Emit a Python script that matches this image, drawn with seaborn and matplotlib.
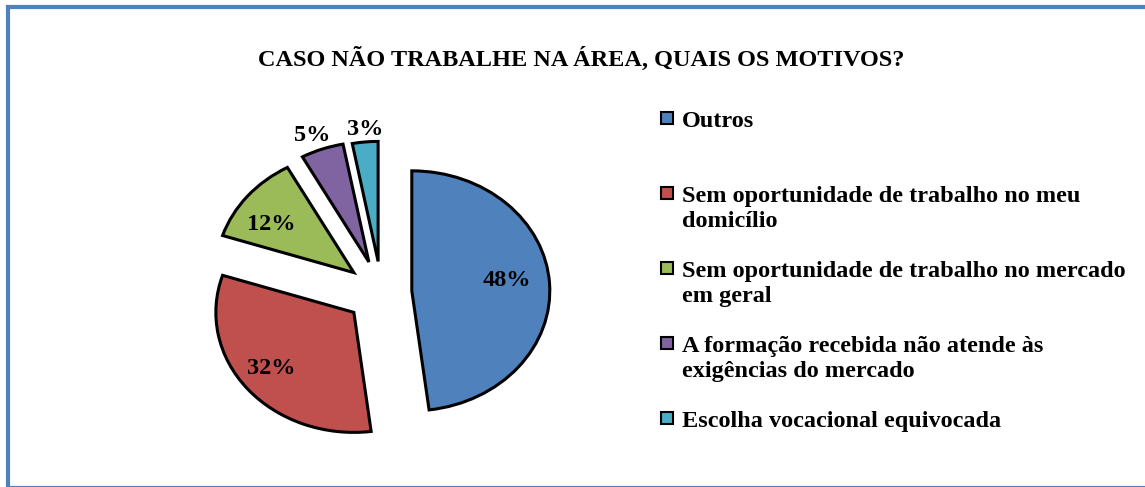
import matplotlib
matplotlib.use("Agg")
import matplotlib.pyplot as plt
import seaborn as sns
import numpy as np
from matplotlib.patches import Rectangle

sns.set_style("white")
plt.rcParams['font.family'] = ['Liberation Serif', 'DejaVu Serif']
plt.rcParams['text.color'] = 'black'

# Dados - motivos para nao trabalhar na area
motivos = [
    "Outros",
    "Sem oportunidade de trabalho no meu\ndomicílio",
    "Sem oportunidade de trabalho no mercado\nem geral",
    "A formação recebida não atende às\nexigências do mercado",
    "Escolha vocacional equivocada",
]
percentual = [48, 32, 12, 5, 3]
cores = ["#4F81BD", "#C0504D", "#9BBB59", "#8064A2", "#4BACC6"]
explode = [0.22, 0.26, 0.26, 0.27, 0.26]

# posicao dos rotulos (distancia do vertice e ajuste de angulo, como o Excel)
dist_rotulo = [0.70, 0.755, 0.725, 1.148, 1.117]
ajuste_ang = [5.0, -2.5, 4.8, 1.3, -0.4]

W, H = 1145, 487
fig = plt.figure(figsize=(W / 100, H / 100), dpi=100)
ax = fig.add_axes([0, 0, 1, 1])

wedges, texts, autotexts = ax.pie(
    percentual, colors=cores, explode=explode, startangle=90, counterclock=False,
    autopct='%1.0f%%', pctdistance=0.73,
    wedgeprops=dict(edgecolor='black', linewidth=2.2),
    textprops=dict(fontsize=17.5, fontweight='bold', color='black'),
)

for w, t, r, da in zip(wedges, autotexts, dist_rotulo, ajuste_ang):
    ang = np.deg2rad((w.theta1 + w.theta2) / 2 + da)
    cx, cy = w.center
    t.set_position((cx + r * np.cos(ang), cy + r * np.sin(ang) - 0.015))

# pizza achatada como no Excel (rx=138px, ry=120px)
ax.set_aspect('auto')
ax.set_xlim(-381.5 / 138, (W - 381.5) / 138)
ax.set_ylim(-(H - 292.5) / 120, 292.5 / 120)
ax.axis('off')

fig.text(581.5 / W, 1 - 65.7 / H, "CASO NÃO TRABALHE NA ÁREA, QUAIS OS MOTIVOS?",
         ha='center', va='baseline', fontsize=17.5, fontweight='bold')

# legenda
for i, (w, lab) in enumerate(zip(wedges, motivos)):
    yb = 126.7 + 75 * i
    for j, linha in enumerate(lab.split("\n")):
        fig.text(682 / W, 1 - (yb + 25 * j) / H, linha, ha='left', va='baseline',
                 fontsize=17.5, fontweight='bold')
    fig.patches.append(Rectangle((661 / W, 1 - (yb - 2.5) / H), 12 / W, 12 / H,
                                 transform=fig.transFigure, facecolor=w.get_facecolor(),
                                 edgecolor='black', lw=1.5))

# moldura
fig.patches.append(Rectangle((8 / W, -0.5 / H), 1160 / W, (H - 6.5) / H,
                             transform=fig.transFigure, fill=False,
                             edgecolor='#4F81BD', lw=3))

plt.savefig('out.png', dpi=100)
